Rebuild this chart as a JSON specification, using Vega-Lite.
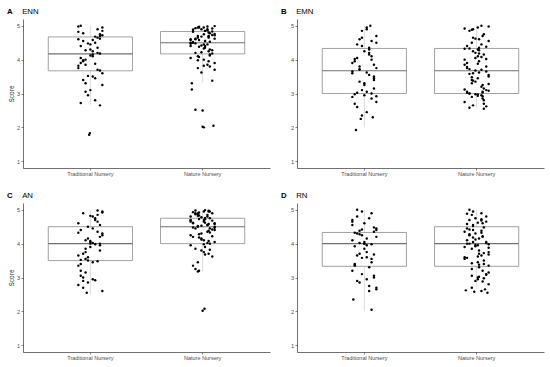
{
"$schema":"https://vega.github.io/schema/vega-lite/v6.json",
"padding":{"left":7,"top":8,"right":2,"bottom":2},
"config":{"view":{"stroke":null},"font":"Liberation Sans",
"axis":{"domainColor":"#333333","domainWidth":0.7,"tickColor":"#333333","tickSize":2,"tickWidth":0.6,"labelFontSize":5.5,"labelColor":"#4d4d4d","grid":false,"labelPadding":1.5,"titleFontSize":6.5,"titleFontWeight":"normal","titleColor":"#222222","titlePadding":2},
"axisX":{"labelAngle":0},
"title":{"fontSize":7.8,"fontWeight":"bold","anchor":"start","frame":"group","dx":-16,"offset":3,"color":"#000000","subtitleFontSize":7.8,"subtitleFontWeight":"normal","subtitleColor":"#000000","subtitlePadding":-7.8}},
"datasets":{
"boxes":[
{"panel":"A","group":"T","lo":2.67,"q1":3.67,"med":4.17,"q3":4.67,"hi":5},
{"panel":"A","group":"N","lo":3.33,"q1":4.17,"med":4.5,"q3":4.83,"hi":5},
{"panel":"B","group":"T","lo":2.0,"q1":3.0,"med":3.67,"q3":4.33,"hi":5},
{"panel":"B","group":"N","lo":2.6,"q1":3.0,"med":3.67,"q3":4.33,"hi":5},
{"panel":"C","group":"T","lo":2.5,"q1":3.5,"med":4.0,"q3":4.5,"hi":5},
{"panel":"C","group":"N","lo":3.17,"q1":4.0,"med":4.5,"q3":4.75,"hi":5},
{"panel":"D","group":"T","lo":2.0,"q1":3.33,"med":4.0,"q3":4.33,"hi":5},
{"panel":"D","group":"N","lo":2.67,"q1":3.33,"med":4.0,"q3":4.5,"hi":5}
],
"A":[
{"group":"T","score":4.65,"jitter":3},{"group":"T","score":3.85,"jitter":-2},{"group":"T","score":4.95,"jitter":5},{"group":"T","score":2.72,"jitter":-4},{"group":"T","score":4.30,"jitter":0},
{"group":"T","score":3.45,"jitter":2},{"group":"T","score":4.82,"jitter":-5},{"group":"T","score":4.10,"jitter":1},{"group":"T","score":1.78,"jitter":-0.5},{"group":"T","score":3.68,"jitter":4},
{"group":"T","score":4.55,"jitter":-3},{"group":"T","score":4.20,"jitter":3},{"group":"T","score":3.05,"jitter":-2},{"group":"T","score":4.72,"jitter":5},{"group":"T","score":3.90,"jitter":-4},
{"group":"T","score":4.45,"jitter":0},{"group":"T","score":2.80,"jitter":2},{"group":"T","score":4.98,"jitter":-5},{"group":"T","score":4.15,"jitter":1},{"group":"T","score":3.52,"jitter":-1},
{"group":"T","score":4.62,"jitter":4},{"group":"T","score":3.95,"jitter":-3},{"group":"T","score":4.35,"jitter":3},{"group":"T","score":3.30,"jitter":-2},{"group":"T","score":4.85,"jitter":5},
{"group":"T","score":4.05,"jitter":-4},{"group":"T","score":2.65,"jitter":4},{"group":"T","score":4.50,"jitter":2},{"group":"T","score":3.75,"jitter":-5},{"group":"T","score":4.25,"jitter":1},
{"group":"T","score":1.83,"jitter":-0.2},{"group":"T","score":4.70,"jitter":4},{"group":"T","score":3.40,"jitter":-3},{"group":"T","score":4.90,"jitter":3},{"group":"T","score":4.00,"jitter":-2},
{"group":"T","score":3.60,"jitter":5},{"group":"T","score":4.40,"jitter":-4},{"group":"T","score":3.10,"jitter":0},{"group":"T","score":4.68,"jitter":2},{"group":"T","score":3.82,"jitter":-5},
{"group":"T","score":4.58,"jitter":1},{"group":"T","score":2.95,"jitter":-1},{"group":"T","score":4.18,"jitter":4},{"group":"T","score":4.78,"jitter":-3},{"group":"T","score":3.70,"jitter":3},
{"group":"T","score":4.28,"jitter":-2},{"group":"T","score":3.25,"jitter":5},{"group":"T","score":5.00,"jitter":-4},{"group":"T","score":4.12,"jitter":0},{"group":"T","score":3.88,"jitter":2},
{"group":"T","score":4.60,"jitter":-5},{"group":"T","score":3.50,"jitter":1},{"group":"T","score":4.48,"jitter":-1},{"group":"T","score":4.75,"jitter":4},{"group":"T","score":3.98,"jitter":-3},
{"group":"N","score":4.85,"jitter":1},{"group":"N","score":4.50,"jitter":-4},{"group":"N","score":3.80,"jitter":3},{"group":"N","score":4.95,"jitter":-1.5},{"group":"N","score":4.62,"jitter":5},
{"group":"N","score":4.20,"jitter":-3},{"group":"N","score":4.75,"jitter":0.5},{"group":"N","score":2.52,"jitter":-3},{"group":"N","score":4.40,"jitter":-5},{"group":"N","score":4.98,"jitter":2},
{"group":"N","score":4.10,"jitter":-2},{"group":"N","score":4.68,"jitter":-0.5},{"group":"N","score":3.95,"jitter":2.5},{"group":"N","score":4.55,"jitter":1},{"group":"N","score":4.88,"jitter":-4},
{"group":"N","score":4.30,"jitter":3},{"group":"N","score":3.12,"jitter":-4.5},{"group":"N","score":4.72,"jitter":5},{"group":"N","score":4.48,"jitter":-3},{"group":"N","score":4.00,"jitter":0.5},
{"group":"N","score":4.92,"jitter":4},{"group":"N","score":4.58,"jitter":-5},{"group":"N","score":3.85,"jitter":2},{"group":"N","score":4.65,"jitter":-2},{"group":"N","score":2.02,"jitter":0},
{"group":"N","score":4.80,"jitter":2.5},{"group":"N","score":4.35,"jitter":1},{"group":"N","score":4.52,"jitter":-4},{"group":"N","score":4.15,"jitter":3},{"group":"N","score":4.97,"jitter":-1.5},
{"group":"N","score":3.70,"jitter":5},{"group":"N","score":4.60,"jitter":-3},{"group":"N","score":4.45,"jitter":0.5},{"group":"N","score":4.83,"jitter":4},{"group":"N","score":4.05,"jitter":-5},
{"group":"N","score":3.30,"jitter":-4.5},{"group":"N","score":4.70,"jitter":-2},{"group":"N","score":4.90,"jitter":-0.5},{"group":"N","score":4.25,"jitter":2.5},{"group":"N","score":4.55,"jitter":1},
{"group":"N","score":2.50,"jitter":0},{"group":"N","score":4.78,"jitter":3},{"group":"N","score":4.38,"jitter":-1.5},{"group":"N","score":3.90,"jitter":5},{"group":"N","score":4.62,"jitter":-3},
{"group":"N","score":4.95,"jitter":0.5},{"group":"N","score":4.18,"jitter":4},{"group":"N","score":4.50,"jitter":-5},{"group":"N","score":4.87,"jitter":2},{"group":"N","score":3.75,"jitter":-2},
{"group":"N","score":4.42,"jitter":-0.5},{"group":"N","score":4.68,"jitter":2.5},{"group":"N","score":2.00,"jitter":0.5},{"group":"N","score":4.82,"jitter":-4},{"group":"N","score":4.12,"jitter":3},
{"group":"N","score":4.58,"jitter":-1.5},{"group":"N","score":4.99,"jitter":5},{"group":"N","score":3.38,"jitter":4},{"group":"N","score":4.33,"jitter":0.5},{"group":"N","score":4.73,"jitter":4},
{"group":"N","score":4.47,"jitter":-5},{"group":"N","score":4.90,"jitter":2},{"group":"N","score":3.98,"jitter":-2},{"group":"N","score":4.22,"jitter":-0.5},{"group":"N","score":4.65,"jitter":2.5},
{"group":"N","score":4.85,"jitter":1},{"group":"N","score":2.05,"jitter":4.5},{"group":"N","score":4.53,"jitter":3},{"group":"N","score":4.08,"jitter":-1.5},{"group":"N","score":4.76,"jitter":5},
{"group":"N","score":4.93,"jitter":-3},{"group":"N","score":3.82,"jitter":0.5},{"group":"N","score":4.28,"jitter":4},{"group":"N","score":4.60,"jitter":-5},{"group":"N","score":4.45,"jitter":2},
{"group":"N","score":4.95,"jitter":-2},{"group":"N","score":3.62,"jitter":-0.5},{"group":"N","score":4.70,"jitter":2.5},{"group":"N","score":4.40,"jitter":1},{"group":"N","score":4.88,"jitter":-4}
],
"B":[
{"group":"T","score":2.95,"jitter":0},{"group":"T","score":4.30,"jitter":2},{"group":"T","score":3.65,"jitter":-5},{"group":"T","score":4.90,"jitter":1},{"group":"T","score":2.35,"jitter":-1},
{"group":"T","score":3.40,"jitter":4},{"group":"T","score":4.05,"jitter":-3},{"group":"T","score":3.00,"jitter":3},{"group":"T","score":4.60,"jitter":-2},{"group":"T","score":3.75,"jitter":5},
{"group":"T","score":2.70,"jitter":-4},{"group":"T","score":4.25,"jitter":0},{"group":"T","score":3.55,"jitter":2},{"group":"T","score":1.92,"jitter":-3.5},{"group":"T","score":4.95,"jitter":1},
{"group":"T","score":3.10,"jitter":-1},{"group":"T","score":3.85,"jitter":4},{"group":"T","score":4.45,"jitter":-3},{"group":"T","score":2.85,"jitter":3},{"group":"T","score":3.35,"jitter":-2},
{"group":"T","score":4.70,"jitter":5},{"group":"T","score":3.95,"jitter":-4},{"group":"T","score":2.30,"jitter":3.5},{"group":"T","score":4.15,"jitter":2},{"group":"T","score":3.60,"jitter":-5},
{"group":"T","score":3.05,"jitter":1},{"group":"T","score":4.85,"jitter":-1},{"group":"T","score":3.45,"jitter":4},{"group":"T","score":2.60,"jitter":-3},{"group":"T","score":4.00,"jitter":3},
{"group":"T","score":3.70,"jitter":-2},{"group":"T","score":4.50,"jitter":5},{"group":"T","score":2.98,"jitter":-4},{"group":"T","score":3.25,"jitter":0},{"group":"T","score":4.35,"jitter":2},
{"group":"T","score":3.90,"jitter":-5},{"group":"T","score":2.45,"jitter":1},{"group":"T","score":4.65,"jitter":-1},{"group":"T","score":3.50,"jitter":4},{"group":"T","score":3.02,"jitter":-3},
{"group":"T","score":4.10,"jitter":3},{"group":"T","score":3.80,"jitter":-2},{"group":"T","score":2.75,"jitter":5},{"group":"T","score":5.00,"jitter":2.5},{"group":"T","score":3.30,"jitter":0},
{"group":"T","score":4.20,"jitter":2},{"group":"T","score":2.90,"jitter":-5},{"group":"T","score":3.62,"jitter":1},{"group":"T","score":4.40,"jitter":-1},{"group":"T","score":3.15,"jitter":4},
{"group":"T","score":2.25,"jitter":-1.5},{"group":"T","score":4.55,"jitter":3},{"group":"T","score":3.72,"jitter":-2},{"group":"T","score":2.92,"jitter":5},{"group":"T","score":4.02,"jitter":-4},
{"group":"N","score":3.00,"jitter":-3},{"group":"N","score":4.30,"jitter":0.5},{"group":"N","score":3.65,"jitter":4},{"group":"N","score":4.92,"jitter":-5},{"group":"N","score":2.95,"jitter":2},
{"group":"N","score":3.40,"jitter":-2},{"group":"N","score":4.05,"jitter":-0.5},{"group":"N","score":3.05,"jitter":2.5},{"group":"N","score":4.60,"jitter":1},{"group":"N","score":3.75,"jitter":-4},
{"group":"N","score":2.70,"jitter":3},{"group":"N","score":4.25,"jitter":-1.5},{"group":"N","score":3.55,"jitter":5},{"group":"N","score":2.58,"jitter":-3},{"group":"N","score":4.95,"jitter":0.5},
{"group":"N","score":3.10,"jitter":4},{"group":"N","score":3.85,"jitter":-5},{"group":"N","score":4.45,"jitter":2},{"group":"N","score":2.90,"jitter":-2},{"group":"N","score":3.35,"jitter":-0.5},
{"group":"N","score":4.70,"jitter":2.5},{"group":"N","score":3.95,"jitter":1},{"group":"N","score":3.02,"jitter":-4},{"group":"N","score":4.15,"jitter":3},{"group":"N","score":3.60,"jitter":-1.5},
{"group":"N","score":3.08,"jitter":5},{"group":"N","score":4.85,"jitter":-3},{"group":"N","score":3.45,"jitter":0.5},{"group":"N","score":2.62,"jitter":4},{"group":"N","score":4.00,"jitter":-5},
{"group":"N","score":3.70,"jitter":2},{"group":"N","score":4.50,"jitter":-2},{"group":"N","score":2.98,"jitter":-0.5},{"group":"N","score":3.25,"jitter":2.5},{"group":"N","score":4.35,"jitter":1},
{"group":"N","score":3.90,"jitter":-4},{"group":"N","score":2.80,"jitter":3},{"group":"N","score":4.65,"jitter":-1.5},{"group":"N","score":3.50,"jitter":5},{"group":"N","score":3.00,"jitter":-3},
{"group":"N","score":4.10,"jitter":0.5},{"group":"N","score":3.80,"jitter":4},{"group":"N","score":2.75,"jitter":-5},{"group":"N","score":5.00,"jitter":2},{"group":"N","score":3.30,"jitter":-2},
{"group":"N","score":4.20,"jitter":-0.5},{"group":"N","score":2.92,"jitter":2.5},{"group":"N","score":3.62,"jitter":1},{"group":"N","score":4.40,"jitter":-4},{"group":"N","score":3.15,"jitter":3},
{"group":"N","score":2.65,"jitter":-1.5},{"group":"N","score":4.55,"jitter":5},{"group":"N","score":3.72,"jitter":-3},{"group":"N","score":2.97,"jitter":0.5},{"group":"N","score":4.02,"jitter":4},
{"group":"N","score":4.32,"jitter":-5},{"group":"N","score":3.20,"jitter":2},{"group":"N","score":4.88,"jitter":-2},{"group":"N","score":3.68,"jitter":-0.5},{"group":"N","score":2.85,"jitter":2.5},
{"group":"N","score":4.28,"jitter":1},{"group":"N","score":3.05,"jitter":-4},{"group":"N","score":4.75,"jitter":3},{"group":"N","score":3.38,"jitter":-1.5},{"group":"N","score":4.98,"jitter":5},
{"group":"N","score":3.58,"jitter":-3},{"group":"N","score":2.93,"jitter":0.5},{"group":"N","score":4.38,"jitter":4},{"group":"N","score":3.12,"jitter":-5},{"group":"N","score":4.08,"jitter":2},
{"group":"N","score":3.48,"jitter":-2},{"group":"N","score":4.62,"jitter":-0.5},{"group":"N","score":3.03,"jitter":2.5},{"group":"N","score":4.18,"jitter":1},{"group":"N","score":3.78,"jitter":-4},
{"group":"N","score":2.55,"jitter":3},{"group":"N","score":4.90,"jitter":-1.5},{"group":"N","score":3.28,"jitter":5},{"group":"N","score":4.33,"jitter":-3},{"group":"N","score":3.88,"jitter":0.5}
],
"C":[
{"group":"T","score":4.80,"jitter":1},{"group":"T","score":3.50,"jitter":-1},{"group":"T","score":4.00,"jitter":4},{"group":"T","score":2.90,"jitter":-3},{"group":"T","score":4.35,"jitter":3},
{"group":"T","score":3.75,"jitter":-2},{"group":"T","score":4.95,"jitter":5},{"group":"T","score":3.20,"jitter":-4},{"group":"T","score":4.05,"jitter":0},{"group":"T","score":2.55,"jitter":-1.5},
{"group":"T","score":4.60,"jitter":-5},{"group":"T","score":3.45,"jitter":1},{"group":"T","score":4.15,"jitter":-1},{"group":"T","score":3.95,"jitter":4},{"group":"T","score":2.70,"jitter":-3},
{"group":"T","score":4.85,"jitter":3},{"group":"T","score":3.55,"jitter":-2},{"group":"T","score":4.30,"jitter":5},{"group":"T","score":3.05,"jitter":-4},{"group":"T","score":4.00,"jitter":0},
{"group":"T","score":4.70,"jitter":2},{"group":"T","score":3.65,"jitter":-5},{"group":"T","score":2.95,"jitter":1},{"group":"T","score":4.50,"jitter":-1},{"group":"T","score":3.80,"jitter":4},
{"group":"T","score":4.90,"jitter":-3},{"group":"T","score":3.48,"jitter":3},{"group":"T","score":4.10,"jitter":-2},{"group":"T","score":2.60,"jitter":5},{"group":"T","score":4.40,"jitter":-4},
{"group":"T","score":3.90,"jitter":0},{"group":"T","score":4.75,"jitter":2},{"group":"T","score":3.35,"jitter":-5},{"group":"T","score":4.02,"jitter":1},{"group":"T","score":2.85,"jitter":-1},
{"group":"T","score":4.55,"jitter":4},{"group":"T","score":3.70,"jitter":-3},{"group":"T","score":4.98,"jitter":3},{"group":"T","score":3.15,"jitter":-2},{"group":"T","score":4.25,"jitter":5},
{"group":"T","score":3.52,"jitter":-4},{"group":"T","score":4.82,"jitter":0},{"group":"T","score":3.98,"jitter":2},{"group":"T","score":2.78,"jitter":-5},{"group":"T","score":4.45,"jitter":1},
{"group":"T","score":3.60,"jitter":-1},{"group":"T","score":4.20,"jitter":4},{"group":"T","score":3.00,"jitter":-3},{"group":"T","score":4.65,"jitter":3},{"group":"T","score":3.85,"jitter":-2},
{"group":"T","score":4.92,"jitter":5},{"group":"T","score":3.40,"jitter":-4},{"group":"T","score":4.08,"jitter":0},{"group":"T","score":2.92,"jitter":2},{"group":"T","score":4.32,"jitter":-5},
{"group":"N","score":4.80,"jitter":2},{"group":"N","score":4.50,"jitter":-2},{"group":"N","score":3.80,"jitter":-0.5},{"group":"N","score":4.95,"jitter":2.5},{"group":"N","score":4.62,"jitter":1},
{"group":"N","score":4.20,"jitter":-4},{"group":"N","score":4.75,"jitter":3},{"group":"N","score":3.20,"jitter":-1.5},{"group":"N","score":4.40,"jitter":5},{"group":"N","score":4.98,"jitter":-3},
{"group":"N","score":4.10,"jitter":0.5},{"group":"N","score":4.68,"jitter":4},{"group":"N","score":3.95,"jitter":-5},{"group":"N","score":4.55,"jitter":2},{"group":"N","score":4.88,"jitter":-2},
{"group":"N","score":4.30,"jitter":-0.5},{"group":"N","score":3.70,"jitter":2.5},{"group":"N","score":4.72,"jitter":1},{"group":"N","score":4.48,"jitter":-4},{"group":"N","score":4.00,"jitter":3},
{"group":"N","score":4.92,"jitter":-1.5},{"group":"N","score":4.58,"jitter":5},{"group":"N","score":3.85,"jitter":-3},{"group":"N","score":4.65,"jitter":0.5},{"group":"N","score":2.02,"jitter":0},
{"group":"N","score":4.80,"jitter":-5},{"group":"N","score":4.35,"jitter":2},{"group":"N","score":4.52,"jitter":-2},{"group":"N","score":4.15,"jitter":-0.5},{"group":"N","score":4.97,"jitter":2.5},
{"group":"N","score":3.68,"jitter":1},{"group":"N","score":4.60,"jitter":-4},{"group":"N","score":4.45,"jitter":3},{"group":"N","score":4.83,"jitter":-1.5},{"group":"N","score":4.05,"jitter":5},
{"group":"N","score":3.25,"jitter":-3},{"group":"N","score":4.70,"jitter":0.5},{"group":"N","score":4.90,"jitter":4},{"group":"N","score":4.25,"jitter":-5},{"group":"N","score":4.55,"jitter":2},
{"group":"N","score":3.45,"jitter":-2},{"group":"N","score":4.78,"jitter":-0.5},{"group":"N","score":4.38,"jitter":2.5},{"group":"N","score":3.90,"jitter":1},{"group":"N","score":4.62,"jitter":-4},
{"group":"N","score":4.95,"jitter":3},{"group":"N","score":4.18,"jitter":-1.5},{"group":"N","score":4.50,"jitter":5},{"group":"N","score":4.87,"jitter":-3},{"group":"N","score":3.75,"jitter":0.5},
{"group":"N","score":4.42,"jitter":4},{"group":"N","score":4.68,"jitter":-5},{"group":"N","score":2.08,"jitter":0.8},{"group":"N","score":4.82,"jitter":-2},{"group":"N","score":4.12,"jitter":-0.5},
{"group":"N","score":4.58,"jitter":2.5},{"group":"N","score":4.99,"jitter":1},{"group":"N","score":3.35,"jitter":-4},{"group":"N","score":4.33,"jitter":3},{"group":"N","score":4.73,"jitter":-1.5},
{"group":"N","score":4.47,"jitter":5},{"group":"N","score":4.90,"jitter":-3},{"group":"N","score":3.98,"jitter":0.5},{"group":"N","score":4.22,"jitter":4},{"group":"N","score":4.65,"jitter":-5},
{"group":"N","score":4.85,"jitter":2},{"group":"N","score":3.18,"jitter":-2},{"group":"N","score":4.53,"jitter":-0.5},{"group":"N","score":4.08,"jitter":2.5},{"group":"N","score":4.76,"jitter":1},
{"group":"N","score":4.93,"jitter":-4},{"group":"N","score":3.82,"jitter":3},{"group":"N","score":4.28,"jitter":-1.5},{"group":"N","score":4.60,"jitter":5},{"group":"N","score":4.45,"jitter":-3},
{"group":"N","score":4.95,"jitter":0.5},{"group":"N","score":3.62,"jitter":4},{"group":"N","score":4.70,"jitter":-5},{"group":"N","score":4.02,"jitter":2},{"group":"N","score":4.88,"jitter":-2}
],
"D":[
{"group":"T","score":4.40,"jitter":5},{"group":"T","score":3.35,"jitter":-4},{"group":"T","score":4.00,"jitter":0},{"group":"T","score":2.75,"jitter":2},{"group":"T","score":4.65,"jitter":-5},
{"group":"T","score":3.60,"jitter":1},{"group":"T","score":4.95,"jitter":-1},{"group":"T","score":3.05,"jitter":4},{"group":"T","score":4.30,"jitter":-3},{"group":"T","score":2.35,"jitter":-4.6},
{"group":"T","score":3.70,"jitter":-2},{"group":"T","score":4.45,"jitter":5},{"group":"T","score":3.40,"jitter":-4},{"group":"T","score":4.05,"jitter":0},{"group":"T","score":2.60,"jitter":2},
{"group":"T","score":4.70,"jitter":-5},{"group":"T","score":3.95,"jitter":1},{"group":"T","score":3.10,"jitter":-1},{"group":"T","score":4.35,"jitter":4},{"group":"T","score":3.65,"jitter":-3},
{"group":"T","score":4.90,"jitter":3},{"group":"T","score":2.85,"jitter":-2},{"group":"T","score":4.20,"jitter":5},{"group":"T","score":3.38,"jitter":-4},{"group":"T","score":4.00,"jitter":0},
{"group":"T","score":2.05,"jitter":3},{"group":"T","score":4.55,"jitter":-5},{"group":"T","score":3.75,"jitter":1},{"group":"T","score":4.25,"jitter":-1},{"group":"T","score":3.00,"jitter":4},
{"group":"T","score":4.80,"jitter":-3},{"group":"T","score":3.55,"jitter":3},{"group":"T","score":4.38,"jitter":-2},{"group":"T","score":2.70,"jitter":5},{"group":"T","score":3.92,"jitter":-4},
{"group":"T","score":4.60,"jitter":0},{"group":"T","score":3.30,"jitter":2},{"group":"T","score":4.10,"jitter":-5},{"group":"T","score":2.95,"jitter":1},{"group":"T","score":4.42,"jitter":-1},
{"group":"T","score":3.68,"jitter":4},{"group":"T","score":5.00,"jitter":-3},{"group":"T","score":3.45,"jitter":3},{"group":"T","score":4.02,"jitter":-2},{"group":"T","score":2.65,"jitter":5},
{"group":"T","score":4.32,"jitter":-4},{"group":"T","score":3.85,"jitter":0},{"group":"T","score":4.75,"jitter":2},{"group":"T","score":3.20,"jitter":-5},{"group":"T","score":4.15,"jitter":1},
{"group":"T","score":3.58,"jitter":-1},{"group":"T","score":4.48,"jitter":4},{"group":"T","score":2.90,"jitter":-3},{"group":"T","score":3.98,"jitter":3},{"group":"T","score":4.28,"jitter":-2},
{"group":"N","score":4.40,"jitter":-1.5},{"group":"N","score":3.35,"jitter":5},{"group":"N","score":4.00,"jitter":-3},{"group":"N","score":2.95,"jitter":0.5},{"group":"N","score":4.65,"jitter":4},
{"group":"N","score":3.60,"jitter":-5},{"group":"N","score":4.90,"jitter":2},{"group":"N","score":3.05,"jitter":-2},{"group":"N","score":4.30,"jitter":-0.5},{"group":"N","score":2.62,"jitter":-4.5},
{"group":"N","score":3.70,"jitter":1},{"group":"N","score":4.45,"jitter":-4},{"group":"N","score":3.40,"jitter":3},{"group":"N","score":4.05,"jitter":-1.5},{"group":"N","score":2.80,"jitter":5},
{"group":"N","score":4.70,"jitter":-3},{"group":"N","score":3.95,"jitter":0.5},{"group":"N","score":3.10,"jitter":4},{"group":"N","score":4.35,"jitter":-5},{"group":"N","score":3.65,"jitter":2},
{"group":"N","score":4.85,"jitter":-2},{"group":"N","score":2.90,"jitter":-0.5},{"group":"N","score":4.20,"jitter":2.5},{"group":"N","score":3.38,"jitter":1},{"group":"N","score":4.00,"jitter":-4},
{"group":"N","score":2.58,"jitter":-1},{"group":"N","score":4.55,"jitter":-1.5},{"group":"N","score":3.75,"jitter":5},{"group":"N","score":4.25,"jitter":-3},{"group":"N","score":3.00,"jitter":0.5},
{"group":"N","score":4.80,"jitter":4},{"group":"N","score":3.55,"jitter":-5},{"group":"N","score":4.38,"jitter":2},{"group":"N","score":2.70,"jitter":-2},{"group":"N","score":3.92,"jitter":-0.5},
{"group":"N","score":4.60,"jitter":2.5},{"group":"N","score":3.30,"jitter":1},{"group":"N","score":4.10,"jitter":-4},{"group":"N","score":2.98,"jitter":3},{"group":"N","score":4.52,"jitter":-1.5},
{"group":"N","score":3.68,"jitter":5},{"group":"N","score":5.00,"jitter":-3},{"group":"N","score":3.45,"jitter":0.5},{"group":"N","score":4.02,"jitter":4},{"group":"N","score":2.65,"jitter":3.5},
{"group":"N","score":4.32,"jitter":2},{"group":"N","score":3.85,"jitter":-2},{"group":"N","score":4.75,"jitter":-0.5},{"group":"N","score":3.20,"jitter":2.5},{"group":"N","score":4.15,"jitter":1},
{"group":"N","score":3.58,"jitter":-4},{"group":"N","score":4.48,"jitter":3},{"group":"N","score":2.88,"jitter":2.5},{"group":"N","score":3.98,"jitter":5},{"group":"N","score":4.28,"jitter":-3},
{"group":"N","score":4.62,"jitter":0.5},{"group":"N","score":3.08,"jitter":4},{"group":"N","score":3.90,"jitter":-5},{"group":"N","score":4.68,"jitter":2},{"group":"N","score":3.25,"jitter":-2},
{"group":"N","score":4.12,"jitter":-0.5},{"group":"N","score":2.60,"jitter":2},{"group":"N","score":3.80,"jitter":1},{"group":"N","score":4.58,"jitter":-4},{"group":"N","score":3.50,"jitter":3},
{"group":"N","score":4.95,"jitter":-1.5},{"group":"N","score":3.15,"jitter":5},{"group":"N","score":4.42,"jitter":-3},{"group":"N","score":3.62,"jitter":0.5},{"group":"N","score":4.05,"jitter":4},
{"group":"N","score":2.55,"jitter":4.5},{"group":"N","score":4.72,"jitter":2},{"group":"N","score":3.42,"jitter":-2},{"group":"N","score":3.96,"jitter":-0.5},{"group":"N","score":4.22,"jitter":2.5},
{"group":"N","score":3.02,"jitter":1},{"group":"N","score":4.88,"jitter":-4},{"group":"N","score":3.72,"jitter":3},{"group":"N","score":4.18,"jitter":-1.5},{"group":"N","score":3.88,"jitter":5}
]
},
"columns":2,
"spacing":{"row":15,"column":11},
"concat":[
{"title":{"text":"A","subtitle":"\u200b\u00a0\u00a0\u00a0\u00a0\u00a0\u00a0\u00a0ENN"},"width":247,"height":149,
"layer":[
{"data":{"name":"boxes"},"transform":[{"filter":"datum.panel=='A'"}],
"encoding":{"x":{"field":"group","type":"nominal","title":null,"scale":{"domain":["T","N"],"paddingInner":0.25,"paddingOuter":0.225},"axis":{"labelExpr":"datum.value=='T'?'Traditional Nursery':'Nature Nursery'"}}},
"layer":[
{"mark":{"type":"rule","color":"#c4c4c4","strokeWidth":0.6},"encoding":{"y":{"field":"lo","type":"quantitative","scale":{"domain":[0.8,5.2],"nice":false,"zero":false},"axis":{"values":[1,2,3,4,5],"title":"Score"}},"y2":{"field":"hi"}}},
{"mark":{"type":"bar","fill":"white","stroke":"#8a8a8a","strokeWidth":0.8,"width":84.2},"encoding":{"y":{"field":"q1","type":"quantitative","scale":{"domain":[0.8,5.2],"nice":false,"zero":false},"axis":{"values":[1,2,3,4,5],"title":"Score"}},"y2":{"field":"q3"}}},
{"mark":{"type":"tick","color":"#333333","thickness":1.1,"size":84},"encoding":{"y":{"field":"med","type":"quantitative","scale":{"domain":[0.8,5.2],"nice":false,"zero":false},"axis":{"values":[1,2,3,4,5],"title":"Score"}}}}
]},
{"data":{"name":"A"},"mark":{"type":"circle","size":6,"color":"black","opacity":1},
"encoding":{"x":{"field":"group","type":"nominal","title":null,"scale":{"domain":["T","N"],"paddingInner":0.25,"paddingOuter":0.225},"axis":{"labelExpr":"datum.value=='T'?'Traditional Nursery':'Nature Nursery'"}},
"xOffset":{"field":"jitter","type":"quantitative","scale":{"domain":[-5,5],"range":[30.1,54.1]}},
"y":{"field":"score","type":"quantitative","scale":{"domain":[0.8,5.2],"nice":false,"zero":false},"axis":{"values":[1,2,3,4,5],"title":"Score"}}}}
]},
{"title":{"text":"B","subtitle":"\u200b\u00a0\u00a0\u00a0\u00a0\u00a0\u00a0\u00a0EMN"},"width":247,"height":149,
"layer":[
{"data":{"name":"boxes"},"transform":[{"filter":"datum.panel=='B'"}],
"encoding":{"x":{"field":"group","type":"nominal","title":null,"scale":{"domain":["T","N"],"paddingInner":0.25,"paddingOuter":0.225},"axis":{"labelExpr":"datum.value=='T'?'Traditional Nursery':'Nature Nursery'"}}},
"layer":[
{"mark":{"type":"rule","color":"#c4c4c4","strokeWidth":0.6},"encoding":{"y":{"field":"lo","type":"quantitative","scale":{"domain":[0.8,5.2],"nice":false,"zero":false},"axis":{"values":[1,2,3,4,5],"title":null}},"y2":{"field":"hi"}}},
{"mark":{"type":"bar","fill":"white","stroke":"#8a8a8a","strokeWidth":0.8,"width":84.2},"encoding":{"y":{"field":"q1","type":"quantitative","scale":{"domain":[0.8,5.2],"nice":false,"zero":false},"axis":{"values":[1,2,3,4,5],"title":null}},"y2":{"field":"q3"}}},
{"mark":{"type":"tick","color":"#333333","thickness":1.1,"size":84},"encoding":{"y":{"field":"med","type":"quantitative","scale":{"domain":[0.8,5.2],"nice":false,"zero":false},"axis":{"values":[1,2,3,4,5],"title":null}}}}
]},
{"data":{"name":"B"},"mark":{"type":"circle","size":6,"color":"black","opacity":1},
"encoding":{"x":{"field":"group","type":"nominal","title":null,"scale":{"domain":["T","N"],"paddingInner":0.25,"paddingOuter":0.225},"axis":{"labelExpr":"datum.value=='T'?'Traditional Nursery':'Nature Nursery'"}},
"xOffset":{"field":"jitter","type":"quantitative","scale":{"domain":[-5,5],"range":[30.1,54.1]}},
"y":{"field":"score","type":"quantitative","scale":{"domain":[0.8,5.2],"nice":false,"zero":false},"axis":{"values":[1,2,3,4,5],"title":null}}}}
]},
{"title":{"text":"C","subtitle":"\u200b\u00a0\u00a0\u00a0\u00a0\u00a0\u00a0\u00a0AN"},"width":247,"height":149,
"layer":[
{"data":{"name":"boxes"},"transform":[{"filter":"datum.panel=='C'"}],
"encoding":{"x":{"field":"group","type":"nominal","title":null,"scale":{"domain":["T","N"],"paddingInner":0.25,"paddingOuter":0.225},"axis":{"labelExpr":"datum.value=='T'?'Traditional Nursery':'Nature Nursery'"}}},
"layer":[
{"mark":{"type":"rule","color":"#c4c4c4","strokeWidth":0.6},"encoding":{"y":{"field":"lo","type":"quantitative","scale":{"domain":[0.8,5.2],"nice":false,"zero":false},"axis":{"values":[1,2,3,4,5],"title":"Score"}},"y2":{"field":"hi"}}},
{"mark":{"type":"bar","fill":"white","stroke":"#8a8a8a","strokeWidth":0.8,"width":84.2},"encoding":{"y":{"field":"q1","type":"quantitative","scale":{"domain":[0.8,5.2],"nice":false,"zero":false},"axis":{"values":[1,2,3,4,5],"title":"Score"}},"y2":{"field":"q3"}}},
{"mark":{"type":"tick","color":"#333333","thickness":1.1,"size":84},"encoding":{"y":{"field":"med","type":"quantitative","scale":{"domain":[0.8,5.2],"nice":false,"zero":false},"axis":{"values":[1,2,3,4,5],"title":"Score"}}}}
]},
{"data":{"name":"C"},"mark":{"type":"circle","size":6,"color":"black","opacity":1},
"encoding":{"x":{"field":"group","type":"nominal","title":null,"scale":{"domain":["T","N"],"paddingInner":0.25,"paddingOuter":0.225},"axis":{"labelExpr":"datum.value=='T'?'Traditional Nursery':'Nature Nursery'"}},
"xOffset":{"field":"jitter","type":"quantitative","scale":{"domain":[-5,5],"range":[30.1,54.1]}},
"y":{"field":"score","type":"quantitative","scale":{"domain":[0.8,5.2],"nice":false,"zero":false},"axis":{"values":[1,2,3,4,5],"title":"Score"}}}}
]},
{"title":{"text":"D","subtitle":"\u200b\u00a0\u00a0\u00a0\u00a0\u00a0\u00a0\u00a0RN"},"width":247,"height":149,
"layer":[
{"data":{"name":"boxes"},"transform":[{"filter":"datum.panel=='D'"}],
"encoding":{"x":{"field":"group","type":"nominal","title":null,"scale":{"domain":["T","N"],"paddingInner":0.25,"paddingOuter":0.225},"axis":{"labelExpr":"datum.value=='T'?'Traditional Nursery':'Nature Nursery'"}}},
"layer":[
{"mark":{"type":"rule","color":"#c4c4c4","strokeWidth":0.6},"encoding":{"y":{"field":"lo","type":"quantitative","scale":{"domain":[0.8,5.2],"nice":false,"zero":false},"axis":{"values":[1,2,3,4,5],"title":null}},"y2":{"field":"hi"}}},
{"mark":{"type":"bar","fill":"white","stroke":"#8a8a8a","strokeWidth":0.8,"width":84.2},"encoding":{"y":{"field":"q1","type":"quantitative","scale":{"domain":[0.8,5.2],"nice":false,"zero":false},"axis":{"values":[1,2,3,4,5],"title":null}},"y2":{"field":"q3"}}},
{"mark":{"type":"tick","color":"#333333","thickness":1.1,"size":84},"encoding":{"y":{"field":"med","type":"quantitative","scale":{"domain":[0.8,5.2],"nice":false,"zero":false},"axis":{"values":[1,2,3,4,5],"title":null}}}}
]},
{"data":{"name":"D"},"mark":{"type":"circle","size":6,"color":"black","opacity":1},
"encoding":{"x":{"field":"group","type":"nominal","title":null,"scale":{"domain":["T","N"],"paddingInner":0.25,"paddingOuter":0.225},"axis":{"labelExpr":"datum.value=='T'?'Traditional Nursery':'Nature Nursery'"}},
"xOffset":{"field":"jitter","type":"quantitative","scale":{"domain":[-5,5],"range":[30.1,54.1]}},
"y":{"field":"score","type":"quantitative","scale":{"domain":[0.8,5.2],"nice":false,"zero":false},"axis":{"values":[1,2,3,4,5],"title":null}}}}
]}
]
}
